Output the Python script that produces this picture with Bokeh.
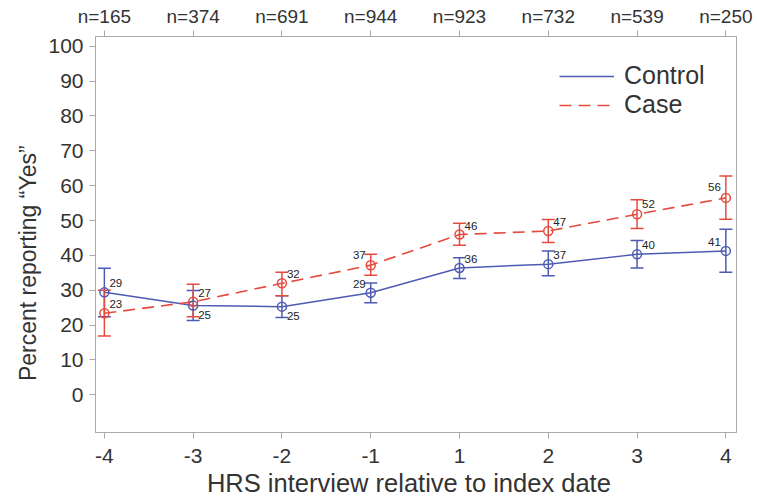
from bokeh.plotting import figure
from bokeh.models import (Range1d, LinearAxis, FixedTicker, Whisker, ColumnDataSource,
                          TeeHead, Legend, LegendItem)
from bokeh.core.properties import value
from bokeh.embed import file_html
from bokeh.resources import INLINE

# ---------------- data ----------------
hrs_labels = ["-4", "-3", "-2", "-1", "1", "2", "3", "4"]
n_labels = ["n=165", "n=374", "n=691", "n=944", "n=923", "n=732", "n=539", "n=250"]

control_pct = [29.4, 25.6, 25.3, 29.3, 36.4, 37.5, 40.3, 41.3]
control_lo = [22.4, 21.3, 22.2, 26.4, 33.4, 34.2, 36.4, 35.2]
control_hi = [36.3, 29.9, 28.4, 32.1, 39.3, 41.3, 44.3, 47.5]
control_text = ["29", "25", "25", "29", "36", "37", "40", "41"]

case_pct = [23.4, 26.7, 32.0, 37.2, 46.0, 47.0, 51.8, 56.5]
case_lo = [16.9, 22.4, 28.4, 34.3, 42.9, 43.7, 47.7, 50.4]
case_hi = [30.0, 31.7, 35.2, 40.3, 49.2, 50.3, 56.0, 62.8]
case_text = ["23", "27", "32", "37", "46", "47", "52", "56"]

y_ticks = [0, 10, 20, 30, 40, 50, 60, 70, 80, 90, 100]

x_title = "HRS interview relative to index date"
y_title = "Percent reporting \u201cYes\u201d"

# label placement (style only): right/left and above/below in screen px
control_dx = [5, 5, 5, -5, 5, 5, 5, -5]
control_dy = [-9, 9, 9, -9, -9, -9, -9, -9]
case_dx = [5, 5, 5, -5, 5, 5, 5, -5]
case_dy = [-9, -9, -9, -10, -9, -9, -10, -11]

BLUE = "#4d5bb3"
RED = "#e64a3e"
GREY = "#aaaaaa"
TXT = "#333333"
FONT = "Liberation Sans"
NBSP = "\u00a0"

xs = list(range(len(hrs_labels)))

ctrl = ColumnDataSource(dict(x=xs, y=control_pct, lo=control_lo, hi=control_hi,
                             t=control_text, dx=control_dx, dy=control_dy))
cas = ColumnDataSource(dict(x=xs, y=case_pct, lo=case_lo, hi=case_hi,
                            t=case_text, dx=case_dx, dy=case_dy))

p = figure(width=757, height=499, output_backend="svg", toolbar_location=None,
           x_range=Range1d(-0.10, 7.12), y_range=Range1d(-10.8, 102.8),
           min_border_left=95, min_border_right=21, min_border_top=36, min_border_bottom=66)
p.grid.visible = False
p.outline_line_color = GREY
p.background_fill_color = "white"
p.border_fill_color = "white"

# axes
for ax in (p.xaxis[0], p.yaxis[0]):
    ax.axis_line_color = GREY
    ax.major_tick_line_color = GREY
    ax.minor_tick_line_color = None
    ax.major_tick_in = 0
    ax.major_tick_out = 6
    ax.major_label_text_font = FONT
    ax.major_label_text_font_size = "21px"
    ax.major_label_text_color = TXT
    ax.axis_label_text_font = FONT
    ax.axis_label_text_font_style = "normal"
    ax.axis_label_text_color = TXT

p.xaxis.ticker = FixedTicker(ticks=xs)
p.xaxis.major_label_overrides = {i: s for i, s in zip(xs, hrs_labels)}
p.xaxis.major_label_standoff = 10
# trailing no-break spaces shift the visible title slightly left, as in the original
p.xaxis.axis_label = x_title + NBSP * 2
p.xaxis.axis_label_text_font_size = "25.5px"
p.xaxis.axis_label_standoff = 3

p.yaxis.ticker = FixedTicker(ticks=y_ticks)
p.yaxis.major_label_standoff = 6
# trailing no-break spaces shift the visible title down, as in the original
p.yaxis.axis_label = y_title + NBSP * 9
p.yaxis.axis_label_text_font_size = "23px"
p.yaxis.axis_label_standoff = 4

top = LinearAxis(ticker=FixedTicker(ticks=xs),
                 major_label_overrides={i: s for i, s in zip(xs, n_labels)})
top.axis_line_color = GREY
top.major_tick_line_color = GREY
top.minor_tick_line_color = None
top.major_tick_in = 0
top.major_tick_out = 6
top.major_label_standoff = 4
top.major_label_text_font = FONT
top.major_label_text_font_size = "19px"
top.major_label_text_color = TXT
p.add_layout(top, "above")

# lines
l_ctrl = p.line("x", "y", source=ctrl, line_color=BLUE, line_width=1.5)
l_case = p.line("x", "y", source=cas, line_color=RED, line_width=1.6, line_dash="12 7")

# error bars
for src, col in ((ctrl, BLUE), (cas, RED)):
    w = Whisker(source=src, base="x", lower="lo", upper="hi", dimension="height",
                line_color=col, line_width=1.5,
                upper_head=TeeHead(size=13, line_color=col, line_width=1.5),
                lower_head=TeeHead(size=13, line_color=col, line_width=1.5))
    p.add_layout(w)

# markers
p.scatter("x", "y", source=ctrl, marker="circle", size=9, fill_alpha=0,
          line_color=BLUE, line_width=1.5)
p.scatter("x", "y", source=cas, marker="circle", size=9, fill_alpha=0,
          line_color=RED, line_width=1.5)

# value labels
for src, dx in ((ctrl, control_dx), (cas, case_dx)):
    left = ColumnDataSource(dict(**{k: [v for v, d in zip(src.data[k], dx) if d < 0] for k in src.data}))
    right = ColumnDataSource(dict(**{k: [v for v, d in zip(src.data[k], dx) if d >= 0] for k in src.data}))
    for s, align in ((left, "right"), (right, "left")):
        p.text("x", "y", text="t", source=s, x_offset="dx", y_offset="dy",
               text_align=align, text_baseline="middle",
               text_font=value(FONT), text_font_size="11.5px", text_color="#222222")

legend = Legend(items=[LegendItem(label="Control", renderers=[l_ctrl]),
                       LegendItem(label="Case", renderers=[l_case])],
                location=(464, 313), orientation="vertical",
                border_line_color=None, background_fill_alpha=0,
                padding=0, margin=0, spacing=0,
                glyph_width=55, glyph_height=28, label_height=28,
                label_standoff=10,
                label_text_font=FONT, label_text_font_size="25px",
                label_text_color=TXT)
p.add_layout(legend)

open("out.html", "w").write(file_html(p, INLINE))
